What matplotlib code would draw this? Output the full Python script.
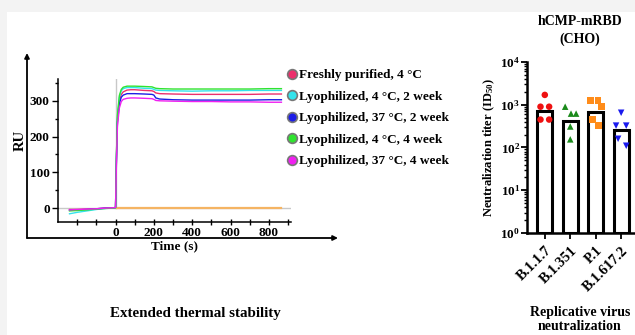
import matplotlib
matplotlib.use("Agg")
import matplotlib.pyplot as plt
from matplotlib.lines import Line2D
from matplotlib.patches import Rectangle
from matplotlib.ticker import LogLocator, NullFormatter, MultipleLocator

plt.rcParams.update({
    "font.family": ["Liberation Serif", "DejaVu Serif"],
    "font.weight": "bold",
    "axes.labelweight": "bold",
    "mathtext.fontset": "custom",
    "mathtext.rm": "Liberation Serif:bold",
    "mathtext.bf": "Liberation Serif:bold",
    "mathtext.it": "Liberation Serif:bold:italic",
})

# ---- SPR sensorgram (noise left out) ----
TIME = [-240, -200, -150, -100, -50, -5, 0, 5, 10, 20, 30, 40, 60, 80, 100,
        150, 190, 200, 210, 230, 300, 400, 500, 600, 700, 800, 865]
FRESH = [-4, -4, -3, -2, 0, 1, 2, 150, 250, 300, 318, 325, 330, 331, 331,
         329, 328, 326, 322, 320, 319, 318, 318, 318, 318, 319, 319]
LYO_4C_2W = [-16, -12, -8, -4, -1, 0, 1, 150, 255, 310, 328, 334, 337, 337, 337,
             335, 334, 332, 330, 329, 328, 327, 328, 328, 329, 329, 329]
LYO_37C_2W = [-6, -5, -4, -2, 0, 1, 2, 140, 240, 292, 310, 316, 320, 320, 320,
              319, 318, 316, 308, 305, 303, 302, 302, 302, 302, 303, 303]
LYO_4C_4W = [-8, -7, -5, -3, -1, 0, 1, 155, 260, 315, 332, 338, 341, 341, 341,
             340, 339, 337, 335, 334, 333, 333, 333, 333, 333, 334, 334]
LYO_37C_4W = [-5, -4, -3, -2, 0, 1, 2, 130, 230, 280, 298, 304, 307, 308, 308,
              307, 306, 304, 301, 300, 299, 298, 298, 297, 297, 296, 296]
CONTROL_T = [0, 865]
CONTROL_RU = [0, 0]

SPR_LABELS = ["Freshly purified, 4 \u00b0C", "Lyophilized, 4 \u00b0C, 2 week",
              "Lyophilized, 37 \u00b0C, 2 week", "Lyophilized, 4 \u00b0C, 4 week",
              "Lyophilized, 37 \u00b0C, 4 week"]
SPR_COLORS = ["#ec2f6c", "#33e3ec", "#1d1de6", "#2fe32f", "#f020f0"]

# ---- neutralization ----
VARIANTS = ["B.1.1.7", "B.1.351", "P.1", "B.1.617.2"]
BAR_TITER = [730, 425, 690, 250]
TITER_B117 = [1700, 900, 900, 450, 450]
TITER_B1351 = [900, 620, 620, 310, 155]
TITER_P1 = [1240, 1240, 900, 450, 325]
TITER_B16172 = [650, 325, 325, 160, 110]
POINT_COLORS = ["#ee1111", "#1a8a1a", "#ff8c1a", "#1a1aee"]
POINT_MARKERS = ["o", "^", "s", "v"]
JITTER = [[0, -0.17, 0.17, -0.17, 0.17],
          [-0.2, 0.03, 0.23, 0.0, 0.0],
          [-0.2, 0.1, 0.23, -0.12, 0.12],
          [0.0, -0.2, 0.2, -0.12, 0.2]]
LOG_TICKS = [1, 10, 100, 1000, 10000]
LOG_LABELS = ["10$^{0}$", "10$^{1}$", "10$^{2}$", "10$^{3}$", "10$^{4}$"]

W, H = 635, 335
fig = plt.figure(figsize=(W / 100, H / 100), dpi=100)
fig.patch.set_facecolor("#f3f3f3")
fig.patches.append(Rectangle((7 / W, 0), 1, (H - 12) / H, transform=fig.transFigure,
                             facecolor="white", edgecolor="none", zorder=-10))


def box(x0, y0, x1, y1):
    # pixel box (top-left origin) -> figure fraction rect
    return [x0 / W, (H - y1) / H, (x1 - x0) / W, (y1 - y0) / H]


# outer frame with arrows
axf = fig.add_axes(box(27, 53, 338, 238))
axf.set_axis_off()
axf.set_xlim(0, 1)
axf.set_ylim(0, 1)
arrow = dict(arrowstyle="-|>", lw=1.3, color="black", mutation_scale=7,
             shrinkA=0, shrinkB=0)
axf.annotate("", xy=(0, 1), xytext=(0, 0), arrowprops=arrow)
axf.annotate("", xy=(1, 0), xytext=(0, 0), arrowprops=arrow)

# sensorgram
ax = fig.add_axes(box(58, 79, 291, 222))
ax.patch.set_alpha(0)
ax.set_xlim(-300, 915)
ax.set_ylim(-39, 361)
ax.axhline(0, color="#c8c8c8", lw=1.0, zorder=1)
ax.plot([0, 0], [0, 361], color="#c8c8c8", lw=1.0, zorder=1)
ax.plot(CONTROL_T, CONTROL_RU, color="#f5b463", lw=1.6, zorder=2)
for series, color in zip([FRESH, LYO_4C_2W, LYO_37C_2W, LYO_4C_4W, LYO_37C_4W], SPR_COLORS):
    ax.plot(TIME, series, color=color, lw=1.0, zorder=3)
for side in ("top", "right"):
    ax.spines[side].set_visible(False)
ax.spines["left"].set_linewidth(1.1)
ax.spines["bottom"].set_linewidth(1.1)
ax.set_xticks(range(-200, 901, 100))
ax.set_xticklabels([str(t) if t >= 0 and t % 200 == 0 and t <= 800 else "" for t in range(-200, 901, 100)])
ax.set_yticks([0, 100, 200, 300])
ax.yaxis.set_minor_locator(MultipleLocator(50))
ax.tick_params(axis="x", direction="inout", length=5, width=1, labelsize=9.5, pad=1)
ax.tick_params(axis="y", which="major", length=4, width=1, labelsize=9.5, pad=2)
ax.tick_params(axis="y", which="minor", length=2.5, width=1)
ax.set_xlabel("Time (s)", fontsize=9.5, labelpad=1)
ax.text(20 / W, (H - 140) / H, "RU", transform=fig.transFigure, rotation=90,
        ha="center", va="center", fontsize=10.5, fontweight="bold")

handles = [Line2D([], [], ls="none", marker="o", markersize=7, markerfacecolor=c,
                  markeredgecolor="#777777", markeredgewidth=1.2) for c in SPR_COLORS]
fig.legend(handles, SPR_LABELS, loc="upper left", bbox_to_anchor=(285 / W, (H - 69) / H),
           frameon=False, fontsize=9.5, handletextpad=0.05, handlelength=1.0,
           labelspacing=0.7, borderpad=0, borderaxespad=0)

fig.text(195 / W, (H - 314) / H, "Extended thermal stability", ha="center", va="center",
         fontsize=10.8, fontweight="bold")

# neutralization bars
axn = fig.add_axes(box(527, 62, 642, 233))
axn.patch.set_alpha(0)
pos = list(range(len(VARIANTS)))
axn.bar(pos, BAR_TITER, width=0.6, bottom=1, facecolor="white", edgecolor="black",
        linewidth=2.2, zorder=2)
for i, vals in enumerate([TITER_B117, TITER_B1351, TITER_P1, TITER_B16172]):
    xs = [i + j for j in JITTER[i]]
    axn.scatter(xs, vals, marker=POINT_MARKERS[i], s=22, color=POINT_COLORS[i],
                edgecolors="none", zorder=3, clip_on=False)
axn.set_yscale("log")
axn.set_ylim(1, 10000)
axn.set_xlim(-0.7, 3.82)
axn.set_yticks(LOG_TICKS)
axn.set_yticklabels(LOG_LABELS)
axn.yaxis.set_minor_locator(LogLocator(base=10, subs=range(2, 10)))
axn.yaxis.set_minor_formatter(NullFormatter())
axn.set_xticks(pos)
axn.set_xticklabels(VARIANTS, rotation=45, ha="right", rotation_mode="anchor")
for side in ("top", "right"):
    axn.spines[side].set_visible(False)
axn.spines["left"].set_linewidth(1.8)
axn.spines["bottom"].set_linewidth(1.8)
axn.tick_params(axis="y", which="major", length=4, width=1.3, labelsize=9.5, pad=1)
axn.tick_params(axis="y", which="minor", length=2.5, width=1)
axn.tick_params(axis="x", length=4, width=1.3, labelsize=10.5, pad=4)
axn.set_ylabel("Neutralization titer (ID$_{50}$)", fontsize=9, labelpad=2)
axn.set_title("hCMP-mRBD\n(CHO)", fontsize=10, fontweight="bold", pad=14, x=0.46,
              linespacing=1.4)
fig.text(580 / W, (H - 306) / H, "Replicative virus\nneutralization", ha="center",
         va="top", fontsize=10, fontweight="bold", linespacing=1.05)

fig.savefig("out.png", dpi=100, facecolor=fig.get_facecolor())
